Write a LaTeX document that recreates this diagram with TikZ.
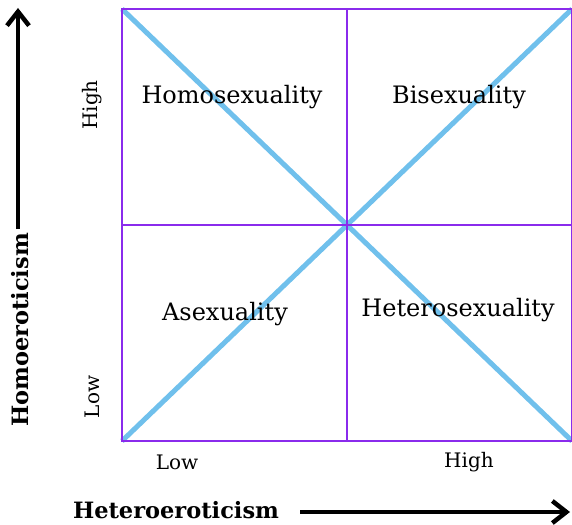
\documentclass[tikz,border=0pt]{standalone}
\usepackage{fontspec}
\setmainfont{DejaVu Serif}
\usetikzlibrary{positioning,arrows.meta}
\definecolor{gridpurple}{RGB}{138,43,236}
\definecolor{diagblue}{RGB}{112,192,236}

\begin{document}
\begin{tikzpicture}[
  x=1pt, y=-1pt,
  >={Straight Barb[length=14pt,width=22pt]},
  gridline/.style={draw=gridpurple, line width=2pt},
  diagline/.style={draw=diagblue, line width=5pt},
  quadlabel/.style={font=\fontsize{24}{26}\selectfont, inner sep=0pt},
  ticklabel/.style={font=\fontsize{20}{22}\selectfont, inner sep=0pt},
  axislabel/.style={font=\fontsize{22.5}{25}\selectfont\bfseries, inner sep=0pt},
  axisarrow/.style={->, line width=4.5pt}
]
  \useasboundingbox (0,0) rectangle (572,524);
  % corners and midpoints of the square
  \coordinate (tl) at (122,9);
  \coordinate (tr) at (572,9);
  \coordinate (bl) at (122,441);
  \coordinate (br) at (572,441);
  \coordinate (ctr) at (347,225);
  \coordinate (tm) at (347,9);
  \coordinate (bm) at (347,441);
  \coordinate (lm) at (122,225);
  \coordinate (rm) at (572,225);
  \draw[diagline] (tl) -- (br);
  \draw[diagline] (bl) -- (tr);
  \draw[gridline] (tl) -- (tr) -- (br) -- (bl) -- cycle;
  \draw[gridline] (tm) -- (bm);
  \draw[gridline] (lm) -- (rm);
  % quadrants
  \node[quadlabel] (homo) at (232,97) {Homosexuality};
  \node[quadlabel] (bi) at (459,97) {Bisexuality};
  \node[quadlabel] (asex) at (225,314) {Asexuality};
  \node[quadlabel] (hetero) at (458,310) {Heterosexuality};
  % ticks
  \node[ticklabel, rotate=90] (yhigh) at (92,105) {High};
  \node[ticklabel, rotate=90] (ylow) at (92,397) {Low};
  \node[ticklabel] (xlow) at (177,462) {Low};
  \node[ticklabel] (xhigh) at (469,462) {High};
  % axes
  \node[axislabel] (xlab) at (176,510) {Heteroeroticism};
  \node[axislabel, rotate=90] (ylab) at (20,330) {Homoeroticism};
  \coordinate (xstart) at (300,512);
  \coordinate (xend) at (570,512);
  \coordinate (ystart) at (18,229);
  \coordinate (yend) at (18,8);
  \draw[axisarrow] (xstart) -- (xend);
  \draw[axisarrow] (ystart) -- (yend);
\end{tikzpicture}
\end{document}
